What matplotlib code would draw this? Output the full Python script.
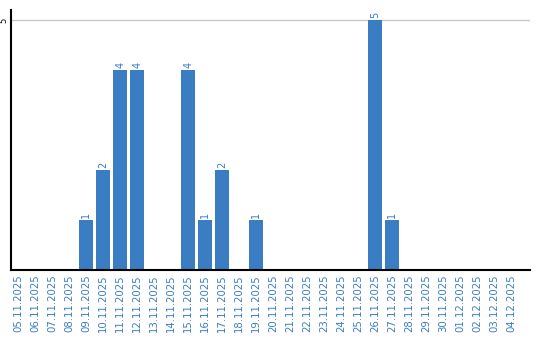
import matplotlib
matplotlib.use('Agg')
import matplotlib.pyplot as plt

# Daily counts
dates = ['05.11.2025', '06.11.2025', '07.11.2025', '08.11.2025', '09.11.2025',
         '10.11.2025', '11.11.2025', '12.11.2025', '13.11.2025', '14.11.2025',
         '15.11.2025', '16.11.2025', '17.11.2025', '18.11.2025', '19.11.2025',
         '20.11.2025', '21.11.2025', '22.11.2025', '23.11.2025', '24.11.2025',
         '25.11.2025', '26.11.2025', '27.11.2025', '28.11.2025', '29.11.2025',
         '30.11.2025', '01.12.2025', '02.12.2025', '03.12.2025', '04.12.2025']
counts = [0, 0, 0, 0, 1, 2, 4, 4, 0, 0, 4, 1, 2, 0, 1,
          0, 0, 0, 0, 0, 0, 5, 1, 0, 0, 0, 0, 0, 0, 0]

blue = '#3a7dc3'

fig = plt.figure(figsize=(5.4, 3.4), dpi=100)
ax = fig.add_axes([11 / 540, 70 / 340, 519 / 540, 260 / 340])

x = list(range(len(dates)))
ax.bar(x, counts, width=0.82, color=blue, zorder=2)

# value labels above non-empty bars
for xi, c in zip(x, counts):
    if c > 0:
        ax.text(xi, c + 0.04, str(c), rotation=90, ha='center', va='bottom',
                color=blue, fontsize=7)

ax.set_xlim(-0.42, 30.1)
ax.set_ylim(0, 5.2)
ax.set_xticks(x)
ax.set_xticklabels(dates, rotation=90, color=blue, fontsize=7.3)
ax.set_yticks([5])
ax.set_yticklabels(['5'], rotation=90, va='center', fontsize=6)
ax.tick_params(axis='both', length=0, pad=3)
ax.tick_params(axis='y', pad=2)
ax.axhline(5, color='#c8c8c8', lw=1, zorder=1)

for s in ['top', 'right']:
    ax.spines[s].set_visible(False)
for s in ['left', 'bottom']:
    ax.spines[s].set_linewidth(1.5)
    ax.spines[s].set_color('black')

plt.savefig('out.png', dpi=100)
